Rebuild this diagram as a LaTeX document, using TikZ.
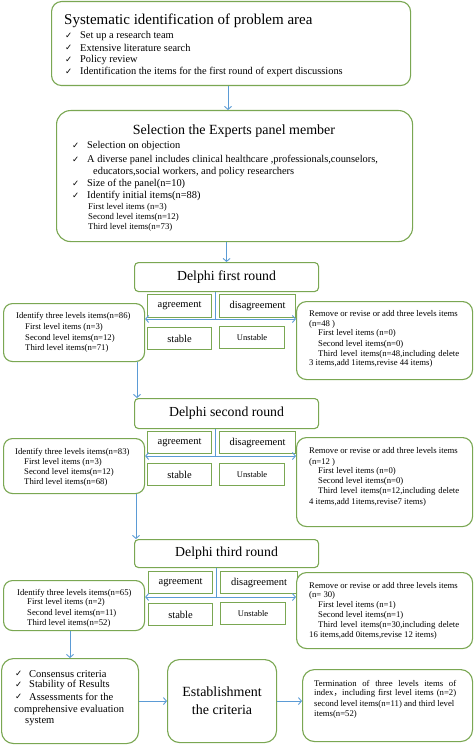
\documentclass[tikz,border=0pt]{standalone}
\usepackage{fontspec}
\setmainfont{Liberation Serif}
\newfontfamily\dvfont{DejaVu Sans}
\newfontfamily\cjkfont{Noto Sans CJK SC}
\usetikzlibrary{arrows.meta}
\definecolor{gcol}{RGB}{122,167,82}
\definecolor{acol}{RGB}{91,155,213}
\newcommand{\ckm}{{\dvfont\fontsize{8.5}{9}\selectfont ✓}}
\tikzset{
  gbox/.style={draw=gcol, line width=1.1pt, rounded corners=#1, anchor=north west, inner sep=0pt, fill=white},
  gbox/.default=10pt,
  sbox/.style={draw=gcol, line width=1.1pt, anchor=north west, inner sep=0pt, fill=white, font=\fontsize{10.5}{12}\selectfont},
  usb/.style={font=\fontsize{8.5}{10}\selectfont},
  arr/.style={draw=acol, line width=0.9pt, -{Straight Barb[length=3pt,width=7pt]}},
  darr/.style={draw=acol, line width=0.9pt, {Straight Barb[length=3pt,width=7pt]}-{Straight Barb[length=3pt,width=7pt]}},
  ln/.style={draw=acol, line width=0.9pt},
  ttl/.style={inner sep=0pt, font=\fontsize{14}{16}\selectfont},
  rnd/.style={inner sep=0pt, font=\fontsize{13.8}{16}\selectfont},
  ckn/.style={anchor=west, inner sep=0pt},
  tnine/.style={anchor=west, inner sep=0pt, font=\fontsize{10.4}{12}\selectfont},
  tsev/.style={anchor=west, inner sep=0pt, font=\fontsize{8.8}{10}\selectfont},
  tsml/.style={anchor=west, inner sep=0pt, font=\fontsize{8.7}{10}\selectfont},
  tbig/.style={anchor=west, inner sep=0pt, font=\fontsize{10.5}{12}\selectfont},
}
\begin{document}
\begin{tikzpicture}[x=1pt,y=-1pt]
\useasboundingbox (0,0) rectangle (474,746);
% ---------- box 1
\node[gbox=10pt, minimum width=359pt, minimum height=84pt] (b1) at (51,1) {};
\node[ttl, anchor=west, font=\fontsize{15}{17}\selectfont] (t1) at (64,21) {Systematic identification of problem area};
\foreach \yy/\tx [count=\i] in {36/{Set up a research team}, 48/{Extensive literature search}, 60/{Policy review}, 72/{Identification the items for the first round of expert discussions}} {
  \node[ckn] (ca\i) at (65,\yy) {\ckm};
  \node[tnine] (ta\i) at (80,\yy) {\tx};
}
% ---------- box 2
\node[gbox=14pt, minimum width=356pt, minimum height=131pt] (b2) at (56,110) {};
\node[ttl] (t2) at (234,131) {Selection the Experts panel member};
\foreach \yy/\tx [count=\i] in {146/{Selection on objection}, 160/{A diverse panel includes clinical healthcare ,professionals,counselors,}, 184/{Size of the panel(n=10)}, 196/{Identify initial items(n=88)}} {
  \node[ckn] (cb\i) at (72,\yy) {\ckm};
  \node[tnine] (tb\i) at (87,\yy) {\tx};
}
\node[tnine] (tb5) at (93,172) {educators,social workers, and policy researchers};
\node[tsev] (tb6) at (88,207) {First level items (n=3)};
\node[tsev] (tb7) at (88,217) {Second level items(n=12)};
\node[tsev] (tb8) at (88,227) {Third level items(n=73)};
% ---------- round 1
\node[gbox=4pt, rnd, minimum width=184pt, minimum height=29pt] (d1) at (134,262) {Delphi first round};
\node[sbox, minimum width=64pt, minimum height=23pt] (ag1) at (147,294) {agreement};
\node[sbox, minimum width=76pt, minimum height=23pt] (dg1) at (219,294) {disagreement};
\node[sbox, minimum width=64pt, minimum height=22pt] (st1) at (147,327) {stable};
\node[sbox, usb, minimum width=65pt, minimum height=22pt] (us1) at (219,326) {Unstable};
\node[gbox=9pt, minimum width=141pt, minimum height=58pt] (l1) at (3,303) {};
\node[tsml] (la1) at (16,316) {Identify three levels items(n=86)};
\node[tsml] (la2) at (25,327) {First level items (n=3)};
\node[tsml] (la3) at (25,338) {Second level items(n=12)};
\node[tsml] (la4) at (25,348) {Third level items(n=71)};
\node[gbox=10pt, minimum width=176pt, minimum height=78pt] (r1) at (296,301) {};
\node[tsml] (ra1) at (309,314) {Remove or revise or add three levels items};
\node[tsml] (ra2) at (309,324) {(n=48 )};
\node[tsml] (ra3) at (318,333) {First level items (n=0)};
\node[tsml] (ra4) at (318,344) {Second level items(n=0)};
\node[tsml] (ra5) at (318,354) {\makebox[141pt][s]{Third level items(n=48,including delete}};
\node[tsml] (ra6) at (309,363) {3 items,add 1items,revise 44 items)};
\coordinate (j1) at (215,319);
\draw[ln] (d1.south -| j1) -- (j1);
\draw[darr] (l1.east |- j1) -- (r1.west |- j1);
% ---------- round 2
\node[gbox=4pt, rnd, minimum width=184pt, minimum height=30pt] (d2) at (134,398) {Delphi second round};
\node[sbox, minimum width=64pt, minimum height=22pt] (ag2) at (147,431) {agreement};
\node[sbox, minimum width=76pt, minimum height=22pt] (dg2) at (219,431) {disagreement};
\node[sbox, minimum width=64pt, minimum height=22pt] (st2) at (147,463) {stable};
\node[sbox, usb, minimum width=65pt, minimum height=22pt] (us2) at (219,463) {Unstable};
\node[gbox=9pt, minimum width=141pt, minimum height=55pt] (l2) at (3,438) {};
\node[tsml] (lb1) at (15,452) {Identify three levels items(n=83)};
\node[tsml] (lb2) at (24,462) {First level items (n=3)};
\node[tsml] (lb3) at (24,472) {Second level items(n=12)};
\node[tsml] (lb4) at (24,482) {Third level items(n=68)};
\node[gbox=10pt, minimum width=176pt, minimum height=89pt] (r2) at (296,437) {};
\node[tsml] (rb1) at (309,451) {Remove or revise or add three levels items};
\node[tsml] (rb2) at (309,462) {(n=12 )};
\node[tsml] (rb3) at (318,471) {First level items (n=0)};
\node[tsml] (rb4) at (318,481) {Second level items(n=0)};
\node[tsml] (rb5) at (318,491) {\makebox[141pt][s]{Third level items(n=12,including delete}};
\node[tsml] (rb6) at (309,502) {4 items,add 1items,revise7 items)};
\coordinate (j2) at (215,456);
\draw[ln] (d2.south -| j2) -- (j2);
\draw[darr] (l2.east |- j2) -- (r2.west |- j2);
% ---------- round 3
\node[gbox=4pt, rnd, minimum width=184pt, minimum height=28pt] (d3) at (134,539) {Delphi third round};
\node[sbox, minimum width=64pt, minimum height=22pt] (ag3) at (148,571) {agreement};
\node[sbox, minimum width=77pt, minimum height=22pt] (dg3) at (220,571) {disagreement};
\node[sbox, minimum width=64pt, minimum height=22pt] (st3) at (148,603) {stable};
\node[sbox, usb, minimum width=65pt, minimum height=22pt] (us3) at (220,602) {Unstable};
\node[gbox=9pt, minimum width=141pt, minimum height=50pt] (l3) at (3,580) {};
\node[tsml] (lc1) at (17,593) {Identify three levels items(n=65)};
\node[tsml] (lc2) at (27,602) {First level items (n=2)};
\node[tsml] (lc3) at (27,613) {Second level items(n=11)};
\node[tsml] (lc4) at (27,623) {Third level items(n=52)};
\node[gbox=10pt, minimum width=176pt, minimum height=76pt] (r3) at (296,572) {};
\node[tsml] (rc1) at (309,586) {Remove or revise or add three levels items};
\node[tsml] (rc2) at (309,595) {(n= 30)};
\node[tsml] (rc3) at (318,605) {First level items (n=1)};
\node[tsml] (rc4) at (318,615) {Second level items(n=1)};
\node[tsml] (rc5) at (318,625) {\makebox[141pt][s]{Third level items(n=30,including delete}};
\node[tsml] (rc6) at (309,635) {16 items,add 0items,revise 12 items)};
\coordinate (j3) at (216,597);
\draw[ln] (d3.south -| j3) -- (j3);
\draw[darr] (l3.east |- j3) -- (r3.west |- j3);
% ---------- bottom
\node[gbox=12pt, minimum width=137pt, minimum height=85pt] (e1) at (1,658) {};
\foreach \yy/\tx [count=\i] in {674/{Consensus criteria}, 685/{Stability of Results}, 697/{Assessments for the}} {
  \node[ckn] (ce\i) at (15,\yy) {\ckm};
  \node[tbig] (te\i) at (29,\yy) {\tx};
}
\node[tbig] (te4) at (14,710) {comprehensive evaluation};
\node[tbig] (te5) at (25,722) {system};
\node[gbox=12pt, minimum width=109pt, minimum height=83pt, align=center, font=\fontsize{14}{18}\selectfont] (e2) at (167,659) {Establishment\\the criteria};
\node[gbox=12pt, minimum width=170pt, minimum height=72pt] (e3) at (302,669) {};
\node[tsml] (tf1) at (314,683) {\makebox[142pt][s]{Termination of three levels items of}};
\node[tsml] (tf2) at (314,693) {\makebox[142pt][s]{index{\cjkfont ，}including first level items (n=2)}};
\node[tsml] (tf3) at (314,704) {second level items(n=11) and third level};
\node[tsml] (tf4) at (314,714) {items(n=52)};
% ---------- connectors
\draw[arr] (b1.south -| 228,0) -- (b2.north -| 228,0);
\draw[arr] (b2.south -| d1.north) -- (d1.north);
\draw[arr] (l1.south -| 137,0) -- (d2.north -| 137,0);
\draw[arr] (l2.south -| 136,0) -- (d3.north -| 136,0);
\draw[arr] (l3.south -| 70,0) -- (e1.north -| 70,0);
\draw[arr] (e1.east) -- (e2.west);
\draw[arr] (e2.east) -- (e2.east -| e3.west);
\end{tikzpicture}
\end{document}
